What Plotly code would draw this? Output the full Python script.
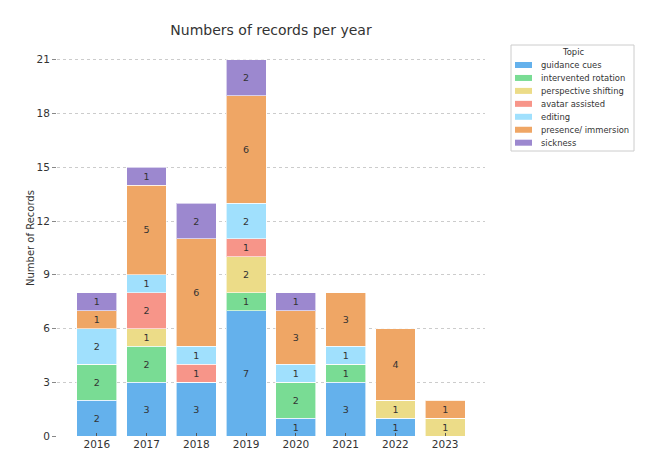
"""Stacked bar chart: number of records per year, split by topic."""

import plotly.graph_objects as go

years = ["2016", "2017", "2018", "2019", "2020", "2021", "2022", "2023"]

guidance_cues = [2, 3, 3, 7, 1, 3, 1, 0]
intervented_rotation = [2, 2, 0, 1, 2, 1, 0, 0]
perspective_shifting = [0, 1, 0, 2, 0, 0, 1, 1]
avatar_assisted = [0, 2, 1, 1, 0, 0, 0, 0]
editing = [2, 1, 1, 2, 1, 1, 0, 0]
presence_immersion = [1, 5, 6, 6, 3, 3, 4, 1]
sickness = [1, 1, 2, 2, 1, 0, 0, 0]

series = [
    ("guidance cues", guidance_cues, "#64b1ec"),
    ("intervented rotation", intervented_rotation, "#79dc94"),
    ("perspective shifting", perspective_shifting, "#ecdc88"),
    ("avatar assisted", avatar_assisted, "#f79589"),
    ("editing", editing, "#a0e0fd"),
    ("presence/ immersion", presence_immersion, "#efa665"),
    ("sickness", sickness, "#9c88cf"),
]

FONT = "DejaVu Sans"
OFF = 8  # page body margin
W, H = 664 - OFF, 470 - OFF
L, R, T, B = 57 - OFF, 485 - OFF, 41 - OFF, 436 - OFF  # plot area in figure pixels


def px(x):
    # screen pixel -> paper x
    return (x - OFF - L) / (R - L)


def py(y):
    # screen pixel -> paper y
    return (B - (y - OFF)) / (B - T)


fig = go.Figure()
for name, vals, color in series:
    fig.add_trace(
        go.Bar(
            x=years,
            y=vals,
            name=name,
            width=0.8,
            marker=dict(color=color, line=dict(color="rgba(255,255,255,0.6)", width=1)),
            text=[str(v) if v else "" for v in vals],
            textposition="inside",
            insidetextanchor="middle",
            textangle=0,
            textfont=dict(family=FONT, size=9.5, color="#333333"),
            constraintext="none",
        )
    )

# hand-built legend so the rows can be as tight as the original
LEG_FONT = dict(family=FONT, size=8.4, color="#333333")
shapes = [
    dict(
        type="rect", xref="paper", yref="paper",
        x0=px(511), x1=px(634), y0=py(45), y1=py(151),
        line=dict(color="#cccccc", width=1), fillcolor="white",
    )
]
annotations = [
    dict(
        text="Topic", xref="paper", yref="paper", x=px(572.5), y=py(52),
        xanchor="center", yanchor="middle", showarrow=False, font=LEG_FONT,
    ),
    dict(
        text="Number of Records", xref="paper", yref="paper", x=px(30), y=py(238),
        xanchor="center", yanchor="middle", textangle=-90, showarrow=False,
        font=dict(family=FONT, size=10, color="#333333"),
    ),
]
for i, (name, _, color) in enumerate(series):
    yc = 65 + i * 12.95
    shapes.append(
        dict(
            type="rect", xref="paper", yref="paper",
            x0=px(515), x1=px(532), y0=py(yc - 3), y1=py(yc + 3),
            line=dict(width=0), fillcolor=color,
        )
    )
    annotations.append(
        dict(
            text=name, xref="paper", yref="paper", x=px(539), y=py(yc),
            xanchor="left", yanchor="middle", showarrow=False, font=LEG_FONT,
        )
    )

fig.update_layout(
    template="none",
    barmode="stack",
    width=W,
    height=H,
    margin=dict(l=L, r=W - R, t=T, b=H - B, autoexpand=False),
    paper_bgcolor="white",
    plot_bgcolor="white",
    font=dict(family=FONT, color="#333333"),
    title=dict(
        text="Numbers of records per year",
        x=(L + R) / 2 / W,
        xanchor="center",
        y=1 - (30 - OFF) / H,
        yanchor="middle",
        font=dict(family=FONT, size=14, color="#333333"),
    ),
    uniformtext=dict(minsize=8, mode="show"),
    showlegend=False,
    shapes=shapes,
    annotations=annotations,
)

fig.update_xaxes(
    type="category",
    range=[-0.8, 7.8],
    automargin=False,
    ticks="inside",
    ticklen=3,
    tickcolor="#555555",
    tickfont=dict(size=10.5, color="#333333"),
    showline=False,
    showgrid=False,
    zeroline=False,
)

fig.update_yaxes(
    range=[0, 22.05],
    automargin=False,
    tickvals=[0, 3, 6, 9, 12, 15, 18, 21],
    ticks="outside",
    ticklen=4,
    tickcolor="#888888",
    tickfont=dict(size=10.5, color="#333333"),
    showgrid=True,
    gridcolor="#cccccc",
    griddash="dot",
    gridwidth=1,
    zeroline=False,
    showline=False,
)

fig.write_html("out.html")
